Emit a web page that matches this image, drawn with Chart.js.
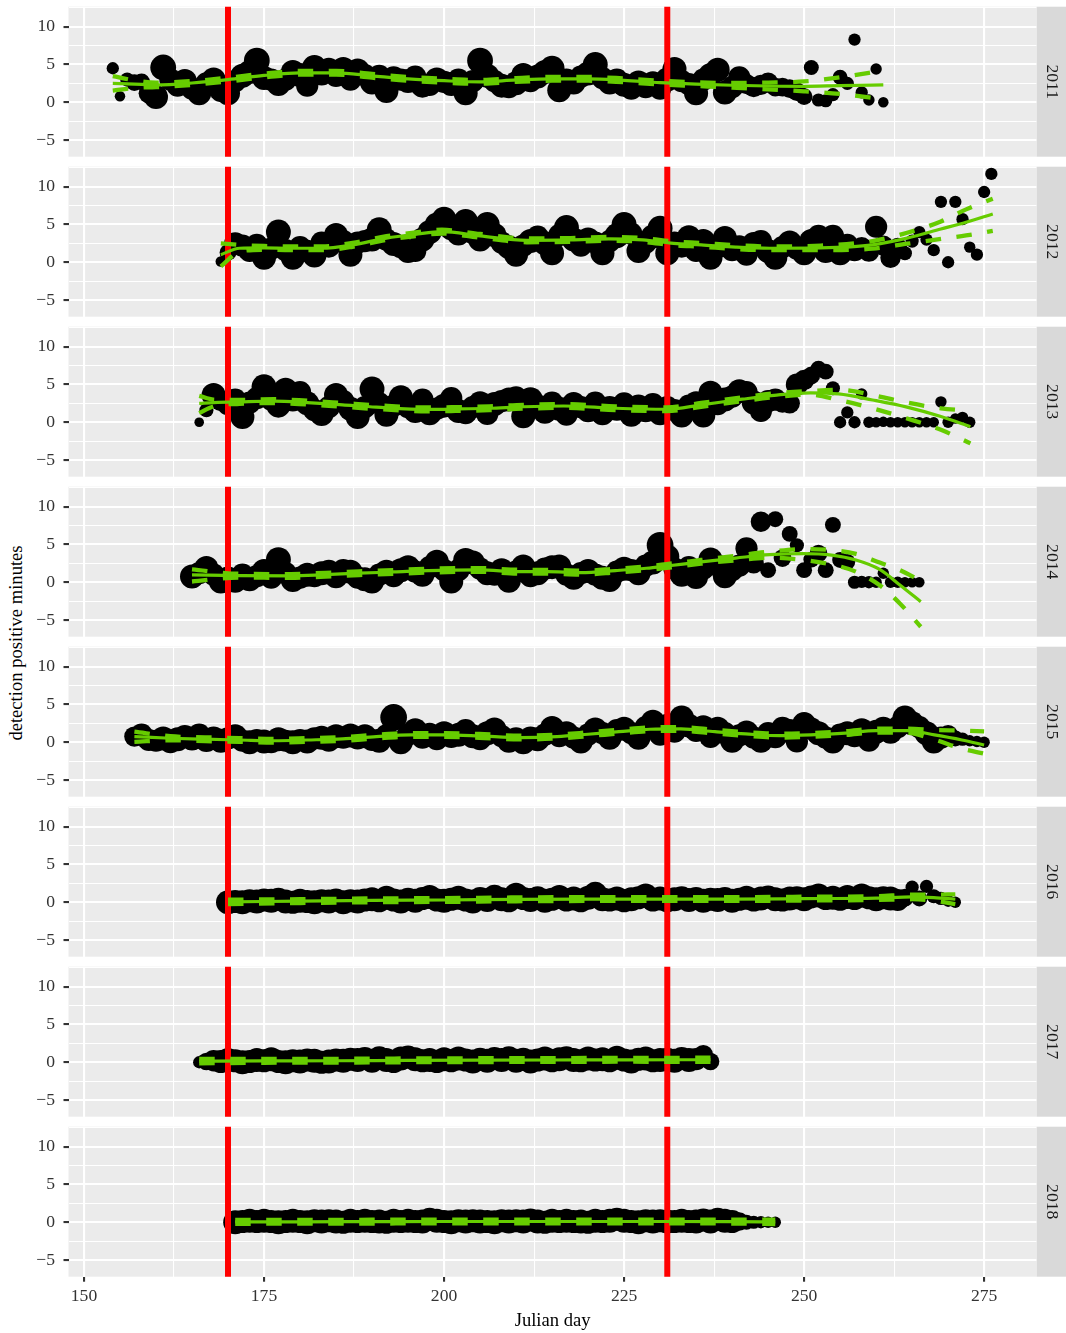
<!DOCTYPE html>
<html>
<head>
<meta charset="utf-8">
<script src="https://cdn.jsdelivr.net/npm/chart.js@4.4.1/dist/chart.umd.min.js"></script>
<style>
html,body{margin:0;padding:0;background:#ffffff;}
#wrap{position:relative;width:1066px;height:1333px;overflow:hidden;background:#fff;}
#wrap canvas{position:absolute;left:0;}
#ytitle{position:absolute;left:16px;top:643px;transform:translate(-50%,-50%) rotate(-90deg);font-family:"Liberation Serif",serif;font-size:18.6px;color:#000;white-space:nowrap;line-height:1;}
</style>
</head>
<body>
<div id="wrap"><div id="ytitle">detection positive minutes</div></div>
<script>
// ---------------- DATA ----------------
const years = ['2011','2012','2013','2014','2015','2016','2017','2018'];
const vlineDays = [170, 231];
const xMajor = [150, 175, 200, 225, 250, 275];
const xMinor = [162.5, 187.5, 212.5, 237.5, 262.5];
const yMajor = [-5, 0, 5, 10];
const yMinor = [-2.5, 2.5, 7.5, 12.5];

// daily detection positive minutes (first day = startYYYY), recording hours per day
const start2011 = 154;
const min2011 = [4.5,0.8,3.0,2.6,2.7,1.2,0.7,4.6,3.0,2.2,
 2.8,1.8,1.2,2.5,3.0,1.5,1.2,2.8,3.5,4.0,
 5.5,3.2,3.0,2.4,3.0,4.0,3.6,2.2,4.6,3.8,
 4.3,3.5,4.4,3.0,4.2,3.6,2.6,3.5,1.5,3.3,
 3.0,2.8,3.4,2.2,2.3,3.0,2.7,2.4,3.0,1.2,
 2.8,5.5,3.5,2.8,2.2,2.0,2.5,3.6,2.8,3.4,
 4.0,4.5,1.6,3.0,2.6,3.4,3.8,5.0,3.2,2.6,
 3.0,2.3,1.8,2.6,2.0,2.5,1.8,3.0,4.4,2.8,
 2.4,1.2,3.0,3.6,4.3,1.3,2.0,3.3,2.4,2.0,
 2.3,2.6,2.0,2.0,1.8,1.4,0.75,4.6,0.3,0.2,
 1.0,3.3,2.5,8.3,1.3,0.3,4.4,0.0];
const hrs2011 = [7,5,9,12,12,16,20,22,18,18,
 20,18,20,18,20,18,20,18,20,20,
 22,20,18,20,18,20,20,18,21,20,
 20,18,20,18,20,18,20,18,20,18,
 18,20,18,20,18,20,18,20,18,20,
 18,22,20,18,20,18,20,20,18,20,
 20,21,20,18,20,18,20,21,18,20,
 18,20,18,20,18,20,18,20,20,18,
 18,20,18,20,20,20,18,18,16,16,
 16,16,14,14,14,14,12,10,8,8,
 8,10,8,7,7,6,6,5];

const start2012 = 169;
const min2012 = [0.1,1.3,2.5,2.2,1.5,2.3,0.6,1.8,4.0,1.6,
 0.6,2.0,1.5,0.9,2.6,2.2,3.6,2.8,1.0,2.6,
 2.8,3.0,4.3,3.0,2.4,2.0,1.5,1.5,3.0,4.0,
 5.0,5.7,4.5,3.8,5.4,4.0,3.0,5.0,3.6,2.6,
 2.0,1.0,2.2,2.8,3.4,2.5,1.2,3.6,4.6,3.0,
 2.2,3.0,2.6,1.2,2.8,3.5,5.0,3.8,1.5,2.6,
 3.4,4.5,1.2,2.6,2.2,3.3,1.5,2.8,0.6,2.0,
 3.2,1.6,2.0,1.0,2.4,2.8,1.5,0.6,2.0,2.6,
 1.8,1.2,2.8,3.5,1.5,3.5,1.2,2.3,1.6,2.0,
 1.4,4.7,2.2,0.6,2.0,1.2,2.8,4.0,3.0,1.6,
 8.0,0.0,8.0,5.7,2.0,1.0,9.3,11.7];
const hrs2012 = [5,12,18,18,18,18,20,18,21,18,
 20,18,18,20,18,20,20,18,20,18,
 18,20,21,18,20,18,20,18,20,20,
 20,21,20,20,21,20,20,21,20,18,
 20,20,18,20,18,20,20,18,21,20,
 18,20,18,20,18,21,21,18,20,18,
 20,21,20,18,20,20,18,20,20,18,
 20,18,20,18,20,18,20,20,18,20,
 18,20,20,18,20,18,20,18,18,16,
 16,18,16,16,14,9,8,7,7,7,
 7,7,7,7,6,7,7,7];

const start2013 = 166;
const min2013 = [0.0,1.6,3.6,2.8,2.4,3.0,0.7,2.6,3.2,4.7,
 3.0,2.2,4.3,3.0,4.0,2.5,1.6,1.1,2.0,3.6,
 2.8,1.8,0.7,2.0,4.4,2.5,1.0,2.2,3.3,2.0,
 1.5,3.0,1.2,1.8,2.2,3.2,1.5,1.2,2.0,2.5,
 1.1,2.4,2.8,3.0,3.3,0.8,3.0,2.2,1.4,2.6,
 1.8,1.0,2.4,2.0,1.6,2.6,1.2,2.0,1.8,2.5,
 1.0,2.2,1.6,2.4,1.2,2.0,1.6,0.9,2.2,2.5,
 0.9,3.9,2.4,3.0,3.4,4.1,4.0,2.6,1.5,2.8,
 3.0,2.6,2.5,5.0,5.6,6.2,7.1,6.7,4.5,0.0,
 1.3,0.0,3.75,0.0,0.0,0.05,0.0,0.0,0.0,0.0,
 0.0,0.0,0.0,2.7,0.0,0.5,0.65,0.0];
const hrs2013 = [4,9,20,16,18,18,20,18,18,21,
 18,20,20,20,18,20,18,20,18,20,
 18,20,20,18,21,18,20,18,20,18,
 20,18,20,18,20,18,20,18,18,20,
 18,20,18,20,18,20,21,18,20,18,
 20,18,20,18,20,18,20,18,20,18,
 20,18,20,18,20,18,18,20,18,20,
 20,20,18,20,18,20,18,20,18,18,
 18,16,16,18,16,13,11,11,9,7,
 7,7,6,6,5,5,5,5,5,5,
 5,5,5,6,6,5,6,6];

const start2014 = 165;
const min2014 = [0.75,1.2,1.9,1.0,0.1,0.6,0.2,1.0,0.4,0.8,
 1.5,0.6,3.0,1.2,0.3,0.6,1.0,0.8,1.2,1.5,
 0.8,1.6,1.4,0.6,0.4,0.1,1.0,1.4,0.8,1.6,
 2.0,1.4,1.0,2.0,2.7,1.6,0.1,1.6,2.9,2.6,
 1.8,1.2,1.0,1.6,0.2,1.4,2.1,0.8,1.2,1.8,
 2.0,2.1,1.0,0.6,1.2,1.5,1.0,0.6,0.3,1.4,
 1.8,1.6,1.2,2.2,2.6,4.9,3.4,1.8,1.0,2.0,
 0.7,1.8,3.0,2.2,0.8,1.6,2.2,4.5,2.5,8.0,
 1.6,8.35,3.2,6.4,4.9,1.6,3.0,3.8,1.6,7.6,
 2.95,2.7,0.0,0.05,0.0,0.0,1.2,0.0,0.0,0.0,
 0.0,0.0];
const hrs2014 = [20,18,20,18,20,18,20,18,20,18,
 20,18,21,18,20,18,20,18,20,18,
 20,18,20,18,20,20,18,20,18,20,
 20,18,20,18,20,18,20,18,21,20,
 18,20,18,20,20,18,20,18,20,18,
 20,20,18,20,18,20,18,20,20,18,
 20,18,20,18,20,23,20,18,20,18,
 20,18,20,18,20,18,18,18,16,16,
 11,11,13,11,9,11,11,13,11,11,
 11,11,8,7,7,6,6,6,6,5,
 5,5];

const start2015 = 157;
const min2015 = [0.75,1.0,0.3,0.2,0.5,0.0,0.4,0.8,0.5,1.0,
 0.3,0.6,0.2,0.5,0.8,0.2,0.0,0.3,0.1,0.0,
 0.4,0.2,0.0,0.3,0.1,0.5,0.6,0.2,0.8,0.6,
 0.9,0.5,0.8,0.3,0.2,0.9,3.3,0.0,1.0,1.6,
 0.6,1.0,0.4,1.2,0.7,1.0,1.6,0.8,0.4,1.2,
 1.7,0.8,0.2,0.5,0.0,0.6,0.4,1.0,1.9,0.8,
 1.2,0.6,0.1,1.0,1.7,1.2,0.6,1.6,1.8,1.2,
 0.6,2.0,2.7,1.0,2.2,1.4,3.2,2.2,1.5,2.0,
 0.7,1.8,1.2,0.2,0.9,1.3,0.6,0.2,1.2,0.8,
 1.9,1.5,0.1,2.4,1.8,1.2,0.6,0.1,1.0,1.2,
 0.8,1.6,0.2,1.4,1.9,1.4,2.0,3.2,2.5,2.0,
 1.2,0.1,0.6,1.0,0.5,0.4,0.2,0.1,0.0];
const hrs2015 = [16,18,18,18,20,18,20,18,20,18,
 20,18,20,18,20,18,20,18,20,18,
 20,18,20,18,20,18,20,18,20,18,
 20,18,20,18,20,18,23,20,18,20,
 18,20,18,20,18,20,18,20,18,20,
 20,18,20,18,20,18,20,18,20,18,
 20,18,20,18,20,18,20,18,20,18,
 20,18,20,18,20,18,21,20,18,20,
 18,20,18,20,18,20,18,20,18,20,
 18,20,18,20,18,20,18,20,18,20,
 18,20,18,20,18,20,18,21,20,18,
 20,20,18,15,11,8,6,6,6];

const start2016 = 170;
const min2016 = [0.0,0.1,0.0,0.2,0.1,0.3,0.2,0.4,0.1,0.0,
 0.2,0.1,0.0,0.2,0.1,0.3,0.0,0.2,0.1,0.3,
 0.4,0.2,0.6,0.3,0.1,0.4,0.2,0.5,0.7,0.3,
 0.2,0.4,0.6,0.3,0.1,0.5,0.3,0.8,0.4,0.2,
 1.0,0.5,0.3,0.6,0.2,0.4,0.7,0.3,0.5,0.2,
 0.6,1.2,0.4,0.3,0.5,0.2,0.4,0.6,0.9,0.3,
 0.5,0.2,0.4,0.6,0.3,0.5,0.2,0.4,0.3,0.5,
 0.2,0.4,0.6,0.3,0.5,0.7,0.4,0.3,0.5,0.6,
 0.4,0.7,0.9,0.5,0.6,0.4,0.7,0.5,0.9,0.6,
 0.4,0.6,0.5,0.3,0.6,2.0,0.5,2.1,0.8,0.5,
 0.2,0.0];
const hrs2016 = [20,19,20,19,20,19,20,19,20,19,
 20,19,20,19,20,19,20,19,20,19,
 20,19,20,19,20,19,20,19,20,19,
 20,19,20,19,20,19,20,19,20,19,
 20,19,20,19,20,19,20,19,20,19,
 20,19,20,19,20,19,20,19,20,19,
 20,19,20,19,20,19,20,19,20,19,
 20,19,20,19,20,19,20,19,20,19,
 20,19,20,19,20,19,20,19,20,19,
 20,19,20,18,13,8,11,8,9,8,
 7,6];

const start2017 = 166;
const min2017 = [0.0,0.1,0.2,
 0.1,0.3,0.2,0.0,0.1,0.3,0.2,0.4,0.1,0.0,
 0.2,0.1,0.3,0.2,0.0,0.1,0.3,0.2,0.4,0.3,
 0.5,0.2,0.6,0.3,0.1,0.5,0.7,0.4,0.2,0.3,
 0.1,0.4,0.2,0.5,0.3,0.1,0.4,0.2,0.5,0.3,
 0.6,0.2,0.4,0.1,0.3,0.5,0.2,0.4,0.6,0.3,
 0.2,0.5,0.3,0.4,0.2,0.6,0.3,0.1,0.4,0.5,
 0.2,0.3,0.4,0.2,0.5,0.3,0.4,1.0,0.1];
const hrs2017 = [7,13,17,
 19,20,19,20,19,20,19,20,19,20,
 19,20,19,20,19,20,19,20,19,20,
 19,20,19,20,19,20,19,20,19,20,
 19,20,19,20,19,20,19,20,19,20,
 19,20,19,20,19,20,19,20,19,20,
 19,20,19,20,19,20,19,20,19,20,
 19,20,19,20,19,20,18,15,13];

const start2018 = 171;
const min2018 = [0.0,0.1,0.2,0.1,0.2,0.1,0.0,0.1,0.2,0.1,
 0.0,0.2,0.1,0.2,0.1,0.0,0.2,0.1,0.2,0.1,
 0.1,0.0,0.2,0.1,0.2,0.1,0.1,0.4,0.2,0.1,
 0.0,0.2,0.1,0.2,0.1,0.1,0.0,0.2,0.1,0.2,
 0.1,0.3,0.1,0.0,0.2,0.1,0.2,0.1,0.1,0.0,
 0.2,0.1,0.2,0.4,0.2,0.1,0.0,0.2,0.1,0.2,
 0.1,0.1,0.2,0.1,0.1,0.3,0.1,0.4,0.2,0.1,
 0.1,0.0,0.0,0.0,0.0,0.0];
const hrs2018 = [20,19,20,19,20,19,20,19,20,19,
 20,19,20,19,20,19,20,19,20,19,
 20,19,20,19,20,19,20,19,20,19,
 20,19,20,19,20,19,20,19,20,19,
 20,19,20,19,20,19,20,19,20,19,
 20,19,20,19,20,19,20,19,20,19,
 20,19,20,19,20,19,20,19,20,19,
 14,10,8,7,6,6];

// smooth fit (solid) and its confidence limits (dashed), read at fitX days
const fitX2011 = [154,157,160,165,170,175,180,185,190,195,200,205,210,215,220,225,230,235,240,245,250,255,261];
const fit2011 = [2.5,2.4,2.3,2.55,3.0,3.55,3.9,3.9,3.5,3.1,2.85,2.7,2.95,3.1,3.1,2.9,2.6,2.4,2.25,2.15,2.1,2.2,2.3];
const hi2011  = [3.45,2.9,2.6,2.8,3.25,3.8,4.15,4.15,3.75,3.35,3.1,2.95,3.2,3.35,3.35,3.15,2.85,2.65,2.55,2.6,2.75,3.3,4.2];
const lo2011  = [1.55,1.9,2.0,2.3,2.75,3.3,3.65,3.65,3.25,2.85,2.6,2.45,2.7,2.85,2.85,2.65,2.35,2.15,1.95,1.7,1.45,1.1,0.4];

const fitX2012 = [169,171.6,175,178.7,183,187.3,192,196,199.7,205,211.5,217.6,222.9,227.6,231.9,235.7,240.5,245.2,252.3,259.5,264.3,269,272.5,276.2];
const fit2012 = [1.0,1.85,1.9,1.85,1.85,2.3,3.2,3.7,4.05,3.5,2.9,2.95,3.1,2.95,2.5,2.3,2.0,1.85,1.9,2.3,3.2,4.4,5.3,6.4];
const hi2012  = [2.5,2.3,2.15,2.1,2.1,2.55,3.45,3.95,4.3,3.75,3.15,3.2,3.35,3.2,2.75,2.55,2.25,2.1,2.2,2.8,3.9,5.4,7.0,8.4];
const lo2012  = [-0.55,1.4,1.65,1.6,1.6,2.05,2.95,3.45,3.8,3.25,2.65,2.7,2.85,2.7,2.25,2.05,1.75,1.6,1.6,1.8,2.45,3.1,3.55,4.15];

const fitX2013 = [166,168,171.6,176.4,181,185.9,190.6,197.7,201.6,206.3,211,216.6,223.8,230.9,235.7,241.4,246.2,250.9,254.8,259.5,264.3,269,273.1];
const fit2013 = [2.5,2.6,2.7,2.8,2.6,2.3,2.0,1.7,1.75,1.85,2.05,2.15,1.85,1.72,2.3,3.05,3.6,3.9,3.75,2.95,2.0,0.75,-0.6];
const hi2013  = [3.5,3.0,2.95,3.05,2.85,2.55,2.25,1.95,2.0,2.1,2.3,2.4,2.1,1.97,2.55,3.3,3.85,4.15,4.3,3.6,2.6,1.85,1.55];
const lo2013  = [1.2,2.1,2.45,2.55,2.35,2.05,1.75,1.45,1.5,1.6,1.8,1.9,1.6,1.47,2.05,2.8,3.35,3.65,2.95,1.85,0.5,-1.0,-2.8];

const fitX2014 = [165,171.6,178.7,183.5,188.2,193,197.8,204.9,210.6,214.3,219,223.8,228.1,230.9,235.7,240.5,245.2,250,253.8,257.2,260.5,263.3,266.2];
const fit2014 = [0.97,0.87,0.83,1.0,1.2,1.36,1.54,1.63,1.4,1.4,1.27,1.54,1.85,2.15,2.7,3.2,3.65,3.8,3.6,2.95,1.7,-0.36,-2.57];
const hi2014  = [1.7,1.12,1.08,1.25,1.45,1.61,1.79,1.88,1.65,1.65,1.52,1.79,2.1,2.4,2.95,3.5,4.05,4.4,4.25,3.75,2.6,1.6,0.2];
const lo2014  = [0.1,0.62,0.58,0.75,0.95,1.11,1.29,1.38,1.15,1.15,1.02,1.29,1.6,1.9,2.45,2.9,3.25,2.95,2.35,1.4,-0.4,-2.8,-5.9];

const fitX2015 = [157,162,166.8,171.6,176.4,181,185.9,190.6,195.4,200.1,204.9,210.6,215.7,220,224.3,228.6,232.9,237.6,241.9,246.6,250.9,255.7,260,264.3,268.1,271.9,275];
const fit2015 = [0.75,0.53,0.4,0.3,0.2,0.3,0.44,0.75,0.97,0.97,0.84,0.62,0.75,1.06,1.4,1.72,1.76,1.4,1.1,0.87,0.97,1.2,1.54,1.54,0.97,0.3,-0.36];
const hi2015  = [1.4,0.8,0.65,0.55,0.45,0.55,0.69,1.0,1.22,1.22,1.09,0.87,1.0,1.31,1.65,1.97,2.01,1.65,1.35,1.12,1.22,1.45,1.79,1.8,1.63,1.55,1.45];
const lo2015  = [0.05,0.26,0.15,0.05,-0.05,0.05,0.19,0.5,0.72,0.72,0.59,0.37,0.5,0.81,1.15,1.47,1.51,1.15,0.85,0.62,0.72,0.95,1.29,1.25,0.35,-0.85,-1.5];

const fitX2016 = [170,180,190,200,210,220,230,240,250,260,265,268,271];
const fit2016 = [0.05,0.15,0.25,0.3,0.38,0.42,0.42,0.42,0.48,0.55,0.7,0.6,0.4];
const hi2016  = [0.35,0.4,0.5,0.55,0.63,0.67,0.67,0.67,0.73,0.8,1.0,1.0,1.05];
const lo2016  = [-0.25,-0.1,0.0,0.05,0.13,0.17,0.17,0.17,0.23,0.3,0.4,0.2,-0.25];

const fitX2017 = [166,175,185,195,205,215,225,237];
const fit2017 = [0.15,0.18,0.2,0.25,0.28,0.3,0.32,0.33];
const hi2017  = [0.45,0.43,0.45,0.5,0.53,0.55,0.57,0.6];
const lo2017  = [-0.15,-0.07,-0.05,0.0,0.03,0.05,0.07,0.06];

const fitX2018 = [171,180,190,200,210,220,230,240,246];
const fit2018 = [0.05,0.06,0.08,0.1,0.1,0.1,0.1,0.08,0.05];
const hi2018  = [0.3,0.31,0.33,0.35,0.35,0.35,0.35,0.33,0.35];
const lo2018  = [-0.2,-0.19,-0.17,-0.15,-0.15,-0.15,-0.15,-0.17,-0.25];

// ---------------- RENDER ----------------
const FONT = '"Liberation Serif"';
const GREEN = '#66CC00';
const X_MIN = 147.85, X_MAX = 282.3, Y_MIN = -7.21, Y_MAX = 12.65;
const sizeOf = h => 3 + 0.45 * h;   // size scale for recording hours

const series = {
  '2011': [start2011, min2011, hrs2011, fitX2011, fit2011, hi2011, lo2011],
  '2012': [start2012, min2012, hrs2012, fitX2012, fit2012, hi2012, lo2012],
  '2013': [start2013, min2013, hrs2013, fitX2013, fit2013, hi2013, lo2013],
  '2014': [start2014, min2014, hrs2014, fitX2014, fit2014, hi2014, lo2014],
  '2015': [start2015, min2015, hrs2015, fitX2015, fit2015, hi2015, lo2015],
  '2016': [start2016, min2016, hrs2016, fitX2016, fit2016, hi2016, lo2016],
  '2017': [start2017, min2017, hrs2017, fitX2017, fit2017, hi2017, lo2017],
  '2018': [start2018, min2018, hrs2018, fitX2018, fit2018, hi2018, lo2018]
};

const panelDeco = {
  id: 'panelDeco',
  beforeDraw(chart) {
    const a = chart.chartArea, ctx = chart.ctx;
    ctx.save();
    ctx.fillStyle = '#EBEBEB';
    ctx.fillRect(a.left, a.top, a.right - a.left, a.bottom - a.top);
    ctx.restore();
  },
  afterDraw(chart, args, opts) {
    const a = chart.chartArea, ctx = chart.ctx;
    ctx.save();
    ctx.fillStyle = '#D9D9D9';
    ctx.fillRect(a.right, a.top, chart.width - a.right, a.bottom - a.top);
    ctx.translate((a.right + chart.width) / 2, (a.top + a.bottom) / 2);
    ctx.rotate(Math.PI / 2);
    ctx.fillStyle = '#1A1A1A';
    ctx.font = '17.6px ' + FONT;
    ctx.textAlign = 'center';
    ctx.textBaseline = 'middle';
    ctx.fillText(opts.label, 0, 0);
    ctx.restore();
  }
};

const fmt = v => (v < 0 ? '\u2212' + Math.abs(v) : String(v));

function buildPanel(i, year) {
  const [start, vals, hrs, fx, fit, hi, lo] = series[year];
  const last = i === years.length - 1;
  const top = 160 * i;
  const h = last ? 1333 - top : 160;
  const cv = document.createElement('canvas');
  cv.width = 1066; cv.height = h;
  cv.style.top = top + 'px'; cv.style.width = '1066px'; cv.style.height = h + 'px';
  document.getElementById('wrap').appendChild(cv);

  const pts = [];
  vals.forEach((v, k) => { if (v !== null) pts.push({ x: start + k, y: v, h: hrs[k] }); });
  const curve = ys => fx.map((x, k) => ({ x: x, y: ys[k] }));
  const lineBase = { type: 'line', pointRadius: 0, fill: false, cubicInterpolationMode: 'monotone', clip: 0, borderColor: GREEN, borderCapStyle: 'butt' };

  const datasets = [
    Object.assign({}, lineBase, { data: curve(fit), borderWidth: 3.2, order: 0 }),
    Object.assign({}, lineBase, { data: curve(hi), borderWidth: 4.3, borderDash: [15.5, 15.5], order: 0 }),
    Object.assign({}, lineBase, { data: curve(lo), borderWidth: 4.3, borderDash: [15.5, 15.5], order: 0 })
  ];
  vlineDays.forEach(d => datasets.push({
    type: 'line', data: [{ x: d, y: -100 }, { x: d, y: 100 }], borderColor: '#FF0000', borderWidth: 6,
    pointRadius: 0, fill: false, clip: 0, order: 1, borderCapStyle: 'butt'
  }));
  datasets.push({
    type: 'scatter', data: pts, backgroundColor: '#000000', borderWidth: 0,
    pointRadius: c => sizeOf(c.raw.h), pointHoverRadius: c => sizeOf(c.raw.h), clip: 0, order: 2
  });

  const isMajor = (list, v) => list.some(m => Math.abs(m - v) < 1e-6);
  const gridFor = (major, drawTicks) => ({
    color: '#FFFFFF',
    lineWidth: c => (c.tick && isMajor(major, c.tick.value)) ? 2.1 : 1.07,
    drawTicks: drawTicks,
    tickLength: 5,
    tickWidth: c => 2.1,
    tickColor: c => (c.tick && isMajor(major, c.tick.value)) ? '#333333' : 'rgba(0,0,0,0)'
  });

  new Chart(cv, {
    type: 'scatter',
    data: { datasets: datasets },
    plugins: [panelDeco],
    options: {
      responsive: false, animation: false, events: [],
      layout: { autoPadding: false, padding: { left: 0, right: 29.3, top: 6.7, bottom: last ? 0 : 3.3 } },
      plugins: { legend: { display: false }, tooltip: { enabled: false }, panelDeco: { label: year } },
      scales: {
        x: {
          type: 'linear', position: 'bottom', min: X_MIN, max: X_MAX,
          afterBuildTicks: s => { s.ticks = xMajor.concat(xMinor).sort((a, b) => a - b).map(v => ({ value: v })); },
          afterFit: s => { s.height = last ? 56.3 : 0; s.paddingLeft = 0; s.paddingRight = 0; },
          border: { display: false },
          grid: gridFor(xMajor, last),
          ticks: {
            display: last, autoSkip: false, maxRotation: 0, minRotation: 0, padding: 3.7,
            color: '#333333', font: { family: FONT, size: 17.6 },
            callback: v => isMajor(xMajor, v) ? fmt(v) : ''
          },
          title: { display: last, text: 'Julian day', color: '#000000', font: { family: FONT, size: 18.6 }, padding: { top: 0, bottom: 0.8 } }
        },
        y: {
          type: 'linear', position: 'left', min: Y_MIN, max: Y_MAX,
          afterBuildTicks: s => { s.ticks = yMajor.concat(yMinor).sort((a, b) => a - b).map(v => ({ value: v })); },
          afterFit: s => { s.width = 68.5; s.paddingTop = 0; s.paddingBottom = 0; },
          border: { display: false },
          grid: gridFor(yMajor, true),
          ticks: {
            autoSkip: false, padding: 8.5, color: '#333333', font: { family: FONT, size: 17.6 },
            callback: v => isMajor(yMajor, v) ? fmt(v) : ''
          }
        }
      }
    }
  });
}

function drawAll() { years.forEach((y, i) => buildPanel(i, y)); }
if (document.fonts && document.fonts.load) {
  document.fonts.load('17.6px "Liberation Serif"').then(drawAll, drawAll);
} else { drawAll(); }
</script>
</body>
</html>
